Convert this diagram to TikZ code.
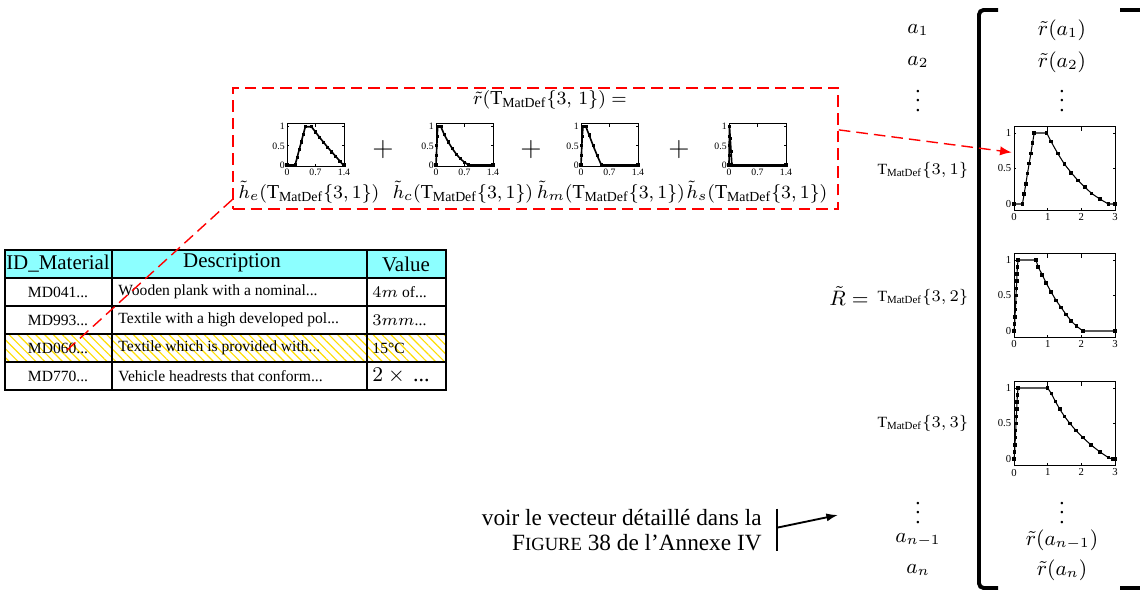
\documentclass[tikz,border=0pt]{standalone}
\usepackage[no-math]{fontspec}
\setmainfont{Liberation Serif}
\usetikzlibrary{arrows.meta,positioning,patterns.meta,plotmarks}
\definecolor{hatchyellow}{RGB}{255,222,0}
\definecolor{hdrcyan}{RGB}{140,255,255}
\newcommand{\tmd}[1]{T\textsubscript{MatDef}$\{#1\}$}
\newcommand{\trail}{...}
\tikzset{
  reddash/.style={red,line width=0.6pt,dash pattern=on 5pt off 2.6pt},
  frame/.style={draw,line width=0.45pt,inner sep=0pt,anchor=south west},
  frameline/.style={line width=0.35pt},
  rtick/.style={font=\fontsize{4.6}{5}\selectfont,inner sep=1pt},
  htick/.style={font=\fontsize{4.2}{5}\selectfont,inner sep=0.8pt},
  rcurve/.style={line width=0.45pt,mark=square*,mark size=0.55pt},
  hcurve/.style={line width=0.7pt,mark=square*,mark size=0.35pt},
  mat/.style={font=\fontsize{9}{10}\selectfont,inner sep=0.5pt},
  tlbl/.style={font=\fontsize{6.7}{8}\selectfont,inner sep=1pt},
  hlbl/.style={font=\fontsize{8.5}{10}\selectfont,inner sep=0pt},
  thead/.style={font=\fontsize{9}{10}\selectfont,inner sep=0pt},
  tcell/.style={font=\fontsize{6.7}{8}\selectfont,inner sep=0pt}
}
% right column plot: name, origin, data
\newcommand{\rplot}[3]{%
  \begin{scope}[shift={#2},x=14.48pt,y=30.53pt]
    \node[frame,minimum width=43.43pt,minimum height=36.03pt] (#1) at (0,-0.1) {};
    \foreach \t [count=\k] in {0,1,2,3}{%
      \draw[frameline] (\t,-0.1) -- ++(0,0.05) (\t,1.08) -- ++(0,-0.05);
      \node[rtick,below] (#1x\k) at (\t,-0.1) {\t};}
    \foreach \t [count=\k] in {0,0.5,1}{%
      \draw[frameline] (0,\t) -- ++(0.05,0) (3,\t) -- ++(-0.05,0);
      \node[rtick,left] (#1y\k) at (0,\t) {\t};}
    \draw[rcurve] plot coordinates {#3};
  \end{scope}}
% small plot inside the sum
\newcommand{\hplot}[3]{%
  \begin{scope}[shift={#2},x=17.51pt,y=16.47pt]
    \node[frame,minimum width=24.51pt,minimum height=18.45pt] (#1) at (0,-0.05) {};
    \foreach \t [count=\k] in {0,0.7,1.4}{%
      \draw[frameline] (\t,-0.05) -- ++(0,0.07) (\t,1.07) -- ++(0,-0.07);
      \node[htick,below] (#1x\k) at (\t,-0.05) {\t};}
    \foreach \t [count=\k] in {0,0.5,1}{%
      \draw[frameline] (0,\t) -- ++(0.04,0) (1.4,\t) -- ++(-0.04,0);
      \node[htick,left] (#1y\k) at (0,\t) {\t};}
    \draw[hcurve] plot coordinates {#3};
  \end{scope}}
\begin{document}
\begin{tikzpicture}[x=0.43pt,y=-0.43pt]
\useasboundingbox (0,0) rectangle (1140,592);

% the sum of the four histograms
\node[reddash,draw,minimum width=260.2pt,minimum height=52pt,inner sep=0pt] (sumbox) at (535.5,148.5) {};
\node[font=\fontsize{8.5}{9}\selectfont,inner sep=0.5pt] (rtitle) at (550,100) {$\tilde r($\tmd{3,\,1}$)=$};
\hplot{he}{(287,165)}{(0,0) (0.2,0) (0.25,0.2) (0.3,0.4) (0.35,0.6) (0.4,0.8) (0.45,1) (0.6,1) (0.7,0.86) (0.8,0.72) (0.9,0.59) (1.0,0.46) (1.1,0.34) (1.2,0.22) (1.3,0.1) (1.38,0) (1.4,0)}
\hplot{hc}{(436,165)}{(0,0) (0.01,0.25) (0.02,0.5) (0.03,0.75) (0.04,1) (0.12,1) (0.2,0.8) (0.3,0.6) (0.4,0.43) (0.5,0.28) (0.6,0.16) (0.7,0.07) (0.8,0) (1.4,0)}
\hplot{hm}{(581,165)}{(0,0) (0.01,0.25) (0.02,0.5) (0.03,0.75) (0.05,1) (0.12,1) (0.2,0.78) (0.3,0.5) (0.4,0.24) (0.5,0) (1.4,0)}
\hplot{hs}{(729,165)}{(0,0) (0.003,0.25) (0.006,0.5) (0.009,0.75) (0.012,1) (0.03,0.7) (0.05,0.35) (0.07,0) (1.4,0)}
\foreach \s/\x in {e/309,c/463,m/611,s/757}
  \node[hlbl] (l\s) at (\x,192) {$\tilde h_\s($\tmd{3,1}$)$};
\foreach \x [count=\i] in {383,531,679}
  \node[font=\fontsize{13}{13}\selectfont] (plus\i) at (\x,150) {$+$};

% table of materials
\fill[hdrcyan] (5,250) rectangle (446,278);
\fill[pattern={Lines[angle=-45,distance=2.7pt,line width=0.5pt]},pattern color=hatchyellow] (5,334) rectangle (446,362);
\draw[line width=0.6pt] (5,250) rectangle (446,390);
\foreach \y in {278,306,334,362} \draw[line width=0.6pt] (5,\y) -- (446,\y);
\foreach \x in {112,367} \draw[line width=0.6pt] (\x,250) -- (\x,390);
\node[thead] (hid) at (58,264) {ID\_Material};
\node[thead] (hdesc) at (232,263) {Description};
\node[thead] (hval) at (406,264) {Value};
\foreach \y/\id/\desc/\val [count=\i] in {292/MD041\trail/Wooden plank with a nominal\trail/{$4m$ of\trail},
    320/MD993\trail/Textile with a high developed pol\trail/{$3mm$\trail},
    348/MD060\trail/Textile which is provided with\trail/15°C,
    376/MD770\trail/Vehicle headrests that conform\trail/{\fontsize{9.5}{10}\selectfont$2\times{}$\,\trail}}{
  \node[tcell] (id\i) at (58,\y) {\id};
  \node[tcell,anchor=west] (desc\i) at (118,\y) {\desc};
  \node[tcell,anchor=west] (val\i) at (372,\y) {\val};}
\draw[reddash] ([yshift=4.3pt]sumbox.south west) -- ([xshift=3pt,yshift=-1.7pt]id3.center);

% the vector R
\node[mat] (Rt) at (849,296) {$\tilde R=$};
\foreach \y/\lft/\rgt/\n in {30/a_1/\tilde r(a_1)/1, 62/a_2/\tilde r(a_2)/2, 94/\vdots/\vdots/3,
    506/\vdots/\vdots/4, 540/a_{n-1}/\tilde r(a_{n-1})/5, 570/a_n/\tilde r(a_n)/6}{
  \node[mat] (a\n) at (918,\y) {$\lft$};
  \node[mat] (r\n) at (1062,\y) {$\rgt$};}
\foreach \j/\y in {1/170,2/297,3/423}
  \node[tlbl] (t\j) at (923,\y) {\tmd{3,\j}};
\draw[line width=1.7pt,rounded corners=2pt] (998,10) -- (979,10) -- (979,588) -- (998,588);
\draw[line width=1.7pt] (1120,10) -- (1140,10) (1120,588) -- (1140,588);
\rplot{pA}{(1014,204)}{(0,0) (0.25,0) (0.3,0.14) (0.35,0.28) (0.4,0.43) (0.45,0.57) (0.5,0.71) (0.55,0.86) (0.6,1) (0.97,1) (1.1,0.88) (1.3,0.71) (1.5,0.56) (1.7,0.44) (1.9,0.33) (2.1,0.24) (2.3,0.15) (2.55,0.07) (2.8,0) (3,0)}
\rplot{pB}{(1014,331)}{(0,0) (0.02,0.1) (0.03,0.2) (0.04,0.3) (0.05,0.4) (0.06,0.5) (0.07,0.6) (0.08,0.7) (0.09,0.8) (0.1,0.9) (0.12,1) (0.65,1) (0.72,0.9) (0.84,0.79) (0.95,0.68) (1.1,0.55) (1.25,0.43) (1.4,0.33) (1.55,0.23) (1.7,0.14) (1.85,0.07) (2.05,0) (3,0)}
\rplot{pC}{(1014,459)}{(0,0) (0.02,0.1) (0.03,0.2) (0.04,0.3) (0.05,0.4) (0.06,0.5) (0.07,0.6) (0.08,0.7) (0.09,0.8) (0.1,0.9) (0.12,1) (1.0,1) (1.11,0.92) (1.23,0.81) (1.36,0.7) (1.5,0.6) (1.66,0.5) (1.84,0.4) (2.05,0.3) (2.28,0.2) (2.55,0.1) (2.8,0.02) (2.92,0) (3,0)}
\draw[reddash,-{Latex[length=5pt,width=4pt]}] ([yshift=8pt]sumbox.east) -- ([yshift=7pt,xshift=-1pt]pA.west);

% pointer to the detailed vector
\node[font=\fontsize{10}{10.8}\selectfont,align=right,anchor=east,inner sep=0pt] (note) at (762,530)
  {voir le vecteur détaillé dans la\\F{\fontsize{8}{8}\selectfont IGURE} 38 de l'Annexe IV};
\coordinate (notetip) at (838,515);
\draw[thick] ([xshift=6.5pt]note.north east) -- ([xshift=6.5pt]note.south east);
\draw[thick,-{Latex[length=5pt,width=3.5pt]}] ([xshift=6.5pt,yshift=1pt]note.east) -- (notetip);
\end{tikzpicture}
\end{document}
